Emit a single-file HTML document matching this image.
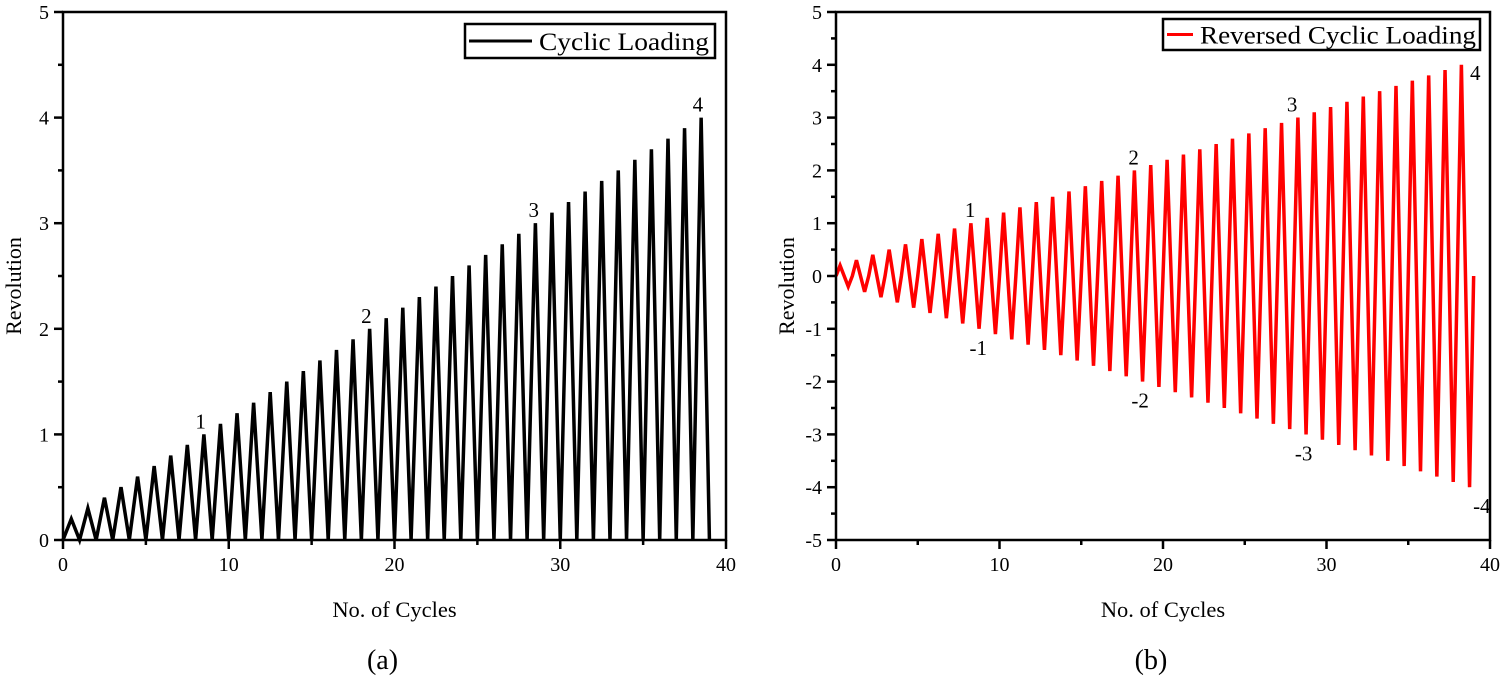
<!DOCTYPE html>
<html><head><meta charset="utf-8"><style>
body{margin:0;background:#fff;}
svg{display:block;font-family:"Liberation Serif",serif;}
</style></head><body>
<svg id="s" width="1500" height="678" viewBox="0 0 1500 678"></svg>
<script>
const amplitudes=[0.2,0.3,0.4,0.5,0.6,0.7,0.8,0.9,1.0,1.1,1.2,1.3,1.4,1.5,1.6,1.7,1.8,1.9,2.0,2.1,2.2,2.3,2.4,2.5,2.6,2.7,2.8,2.9,3.0,3.1,3.2,3.3,3.4,3.5,3.6,3.7,3.8,3.9,4.0];
const xTicks=[0,10,20,30,40];
const yTicksA=[0,1,2,3,4,5];
const yTicksB=[-5,-4,-3,-2,-1,0,1,2,3,4,5];
const labelsA=[{t:"1",x:8.3,y:1.0},{t:"2",x:18.3,y:2.0},{t:"3",x:28.4,y:3.0},{t:"4",x:38.3,y:4.0}];
const labelsB=[{t:"1",x:8.2,y:1.0},{t:"2",x:18.2,y:2.0},{t:"3",x:27.9,y:3.0},{t:"4",x:39.1,y:3.6},
{t:"-1",x:8.7,y:-1.0},{t:"-2",x:18.6,y:-2.0},{t:"-3",x:28.6,y:-3.0},{t:"-4",x:39.5,y:-4.0}];
const NS="http://www.w3.org/2000/svg";
const svg=document.getElementById('s');
function el(tag,attrs,parent){const e=document.createElementNS(NS,tag);for(const k in attrs)e.setAttribute(k,attrs[k]);(parent||svg).appendChild(e);return e;}
function txt(s,attrs,parent){const e=el('text',attrs,parent);e.textContent=s;return e;}

function chart(cfg){
  const g=el('g',{});
  
  
  const X=v=>cfg.x0+(v-0)/40*(cfg.x1-cfg.x0);
  const Y=v=>cfg.y0-(v-cfg.ymin)/(cfg.ymax-cfg.ymin)*(cfg.y0-cfg.y1);
  let pts=[[0,0]];
  amplitudes.forEach((a,i)=>{
    if(cfg.reversed){pts.push([i+0.25,a]);pts.push([i+0.75,-a]);pts.push([i+1,0]);}
    else{pts.push([i+0.5,a]);pts.push([i+1,0]);}
  });
  const p=el('polyline',{points:pts.map(q=>X(q[0]).toFixed(2)+","+Y(q[1]).toFixed(2)).join(" "),fill:"none",stroke:cfg.color,"stroke-width":3.5,"stroke-linejoin":"miter"},g);
  
  
  const fr=el('rect',{x:cfg.x0,y:cfg.y1,width:cfg.x1-cfg.x0,height:cfg.y0-cfg.y1,fill:"none",stroke:"#000","stroke-width":2.5},g);
  
  
  for(let v=0;v<=40;v+=5){
    const maj=v%10===0;
    el('line',{x1:X(v),x2:X(v),y1:cfg.y0,y2:cfg.y0+(maj?9:5),stroke:"#000","stroke-width":2.5},g);
  }
  xTicks.forEach(v=>{const t=txt(String(v),{x:X(v),y:cfg.y0+31,"font-size":20,"text-anchor":"middle"},g);
    
    });
  for(let v=cfg.ymin;v<=cfg.ymax;v+=0.5){
    const maj=Math.abs(v-Math.round(v))<1e-6;
    el('line',{x1:cfg.x0,x2:cfg.x0-(maj?9:5),y1:Y(v),y2:Y(v),stroke:"#000","stroke-width":2.5},g);
  }
  cfg.yTicks.forEach(v=>{const t=txt(String(v),{x:cfg.x0-14,y:Y(v)+7,"font-size":20,"text-anchor":"end"},g);
    
    });
  const xt=txt("No. of Cycles",{x:(cfg.x0+cfg.x1)/2,y:617,"font-size":22.5,"text-anchor":"middle"},g);
  
  
  const yx=cfg.x0-42,yy=(cfg.y0+cfg.y1)/2+10;
  const yt=txt("Revolution",{x:yx,y:yy,"font-size":22,"text-anchor":"middle",transform:`rotate(-90 ${yx} ${yy})`},g);
  
  
  const cap=txt(cfg.caption,{x:(cfg.x0+cfg.x1)/2-12,y:669,"font-size":28,"text-anchor":"middle"},g);
  
  
  cfg.labels.forEach(l=>{const neg=l.y<0;
    const t=txt(l.t,{x:X(l.x),y:neg?Y(l.y)+26:Y(l.y)-6,"font-size":21,"text-anchor":"middle"},g);
    
    });
  const lg=el('g',{},g);
  
  
  el('rect',{x:cfg.lx,y:cfg.ly,width:cfg.lr-cfg.lx,height:cfg.lh,fill:"#fff",stroke:"#000","stroke-width":2.5},lg);
  el('line',{x1:cfg.lx+4,x2:cfg.lt-7,y1:cfg.ly+cfg.lh/2,y2:cfg.ly+cfg.lh/2,stroke:cfg.color,"stroke-width":3},lg);
  txt(cfg.legend,{x:cfg.lt,y:cfg.ly+cfg.lh/2+9,"font-size":25,textLength:cfg.tl,lengthAdjust:"spacingAndGlyphs"},lg);
}
chart({name:"chart-a",x0:63,x1:726,y0:540,y1:12,ymin:0,ymax:5,yTicks:yTicksA,reversed:false,color:"#000",caption:"(a)",labels:labelsA,lx:465,lr:715,ly:24,lh:34,lt:539,tl:170,legend:"Cyclic Loading"});
chart({name:"chart-b",x0:836,x1:1490,y0:540,y1:12,ymin:-5,ymax:5,yTicks:yTicksB,reversed:true,color:"#ff0000",caption:"(b)",labels:labelsB,lx:1163,lr:1480,ly:19,lh:31,lt:1200,tl:276,legend:"Reversed Cyclic Loading"});
</script>
</body></html>
